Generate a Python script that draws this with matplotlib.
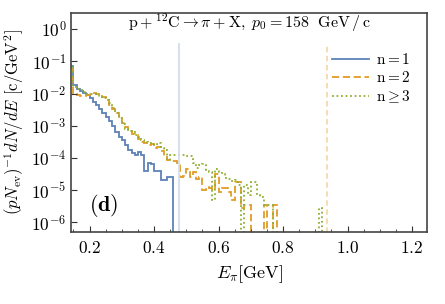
import numpy as np
import matplotlib
matplotlib.use("Agg")
import matplotlib.pyplot as plt
from matplotlib.ticker import MultipleLocator, LogLocator, NullLocator

plt.rcParams["font.family"] = "serif"
plt.rcParams["font.serif"] = ["cmr10", "DejaVu Serif"]
plt.rcParams["mathtext.fontset"] = "cm"
plt.rcParams["axes.formatter.use_mathtext"] = True

# histogram bins: width 0.01 GeV starting at 0.14 GeV
bin_start = 0.14
bin_width = 0.01

# log10 of (p N_ev)^-1 dN/dE per bin, None = empty bin
n1_log = [-1.15, -1.75, -1.85, -1.92, -1.97, -2.05, -2.15, -2.25, -2.35, -2.47,
          -2.6, -2.72, -2.85, -3.0, -3.2, -3.35, -3.45, -3.6, -3.75, -3.85,
          -3.92, -3.82, -3.9, -4.4, -4.15, -4.2, -4.4, -4.4, -4.7, -4.7,
          -4.6, -4.6, None]
n2_log = [-1.2, -2.0, -2.05, -2.08, -2.08, -2.05, -1.97, -1.97, -2.02, -2.08,
          -2.12, -2.2, -2.35, -2.48, -2.62, -2.75, -2.9, -3.05, -3.15, -3.25,
          -3.3, -3.42, -3.5, -3.55, -3.6, -3.58, -3.7, -3.65, -3.8, -3.95,
          -4.05, -4.1, -4.1, -4.15, -4.6, -4.55, -4.35, -4.6, -4.45, -4.65,
          -4.6, -5.0, -4.9, -4.95, -5.0, -4.5, -5.05, -4.95, -4.95, -5.05,
          -5.3, -4.75, -4.75, -5.55, -5.45, -5.45, None, None, None, None,
          -5.45, None, None, -5.45, None]
n3_log = [-1.1, -1.8, -1.85, -1.9, -1.95, -2.0, -2.0, -2.02, -2.05, -2.1,
          -2.15, -2.2, -2.3, -2.45, -2.6, -2.75, -2.95, -3.1, -3.15, -3.2,
          -3.3, -3.35, -3.45, -3.5, -3.55, -3.55, -3.6, -3.55, -3.7, -3.75,
          -4.05, -3.9, -3.9, -3.9, -3.9, -3.92, -3.95, -3.95, -4.17, -4.3,
          -4.22, -4.2, -4.38, -4.43, -5.3, -4.33, -4.45, -4.5, -4.62, -4.65,
          -4.72, -4.7, -4.85, None, -4.85, -5.15, -4.75, -4.75, -5.15, -5.2,
          -5.45, -5.45, -5.45, None, None, None, None, None, None, None,
          None, None, None, None, None, None, None, -5.55, None]

labels = [r"$\mathrm{n=1}$", r"$\mathrm{n=2}$", r"$\mathrm{n\geq 3}$"]
colors = ["#5E81B5", "#E19C24", "#8FB032"]
styles = ["-", (0, (4, 2)), (0, (1, 1.5))]

line_blue_x = 0.478
line_orange_x = 0.935


def to_values(logs):
    return np.array([10.0 ** v if v is not None else 1e-12 for v in logs])


fig = plt.figure(figsize=(4.45, 3.04), dpi=100)
ax = fig.add_axes([0.16, 0.237, 0.80, 0.72])

for logs, lab, col, ls in zip([n1_log, n2_log, n3_log], labels, colors, styles):
    vals = to_values(logs)
    edges = bin_start + bin_width * np.arange(len(vals) + 1)
    ax.stairs(vals, edges, color=col, linestyle=ls, linewidth=1.3, label=lab,
              baseline=None)

ax.plot([line_blue_x, line_blue_x], [1e-8, 10 ** -0.45], color="#d3dcef", lw=1.3)
ax.plot([line_orange_x, line_orange_x], [1e-8, 10 ** -0.45], color="#f7d8aa",
        lw=1.3, ls=(0, (3, 2)))

ax.set_yscale("log")
ax.set_xlim(0.143, 1.247)
ax.set_ylim(10 ** -6.3, 10 ** 0.5)
ax.xaxis.set_major_locator(MultipleLocator(0.2))
ax.xaxis.set_minor_locator(MultipleLocator(0.05))
ax.yaxis.set_major_locator(LogLocator(base=10, numticks=20))
ax.yaxis.set_minor_locator(NullLocator())
ax.tick_params(which="both", direction="in", top=False, right=False,
               labelsize=12.5, color="#333333")
ax.tick_params(which="major", length=4)
ax.tick_params(which="minor", length=2.5)
ax.tick_params(axis="x", pad=6)
for sp in ax.spines.values():
    sp.set_color("#444444")
    sp.set_linewidth(1.2)

ax.set_xlabel(r"$E_\pi[\mathrm{GeV}]$", fontsize=13, labelpad=5)
ax.set_ylabel(r"$(pN_{\mathrm{ev}})^{-1}dN/dE\ [\mathrm{c/GeV^2}]$", fontsize=12,
              labelpad=4)

ax.text(0.5, 0.955, r"$\mathrm{p+^{12}C\rightarrow\pi+X,}\ p_0=158\ \ \mathrm{GeV\,/\,c}$",
        transform=ax.transAxes, ha="center", va="center", fontsize=11.5)
ax.text(0.05, 0.12, r"$\mathbf{(d)}$", transform=ax.transAxes, ha="left",
        va="center", fontsize=16)

ax.legend(loc="upper right", bbox_to_anchor=(0.985, 0.87), frameon=False,
          fontsize=11, handlelength=2.4, labelspacing=0.2, borderaxespad=0.3,
          handletextpad=0.5)

fig.savefig("out.png", dpi=100)
